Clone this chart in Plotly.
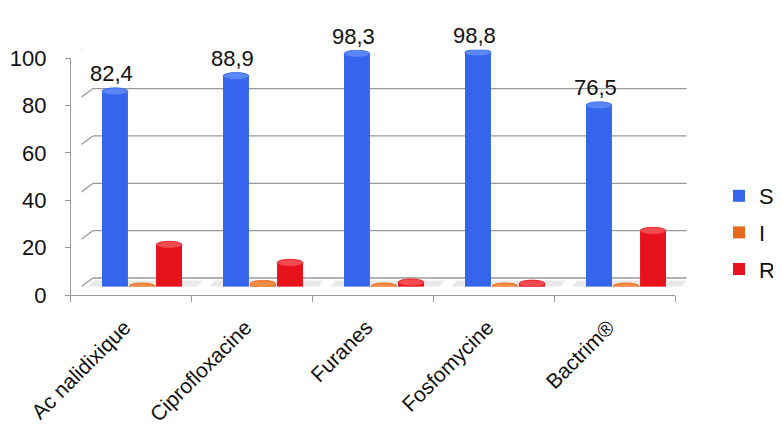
import plotly.graph_objects as go

# ---------------- data ----------------
categories = ["Ac nalidixique", "Ciprofloxacine", "Furanes", "Fosfomycine", "Bactrim®"]
S = [82.4, 88.9, 98.3, 98.8, 76.5]
I = [0.0, 1.1, 0.0, 0.0, 0.0]
R = [17.6, 10.0, 1.7, 1.2, 23.5]
series_names = ["S", "I", "R"]
y_ticks = [0, 20, 40, 60, 80, 100]

# ---------------- style / geometry ----------------
W, H = 781, 431
OFF = 8  # page body margin of the html page
FONT = "Liberation Sans, Arial, sans-serif"
colors = {"S": "#3565ec", "I": "#e8691c", "R": "#e8121c"}
tops = {"S": "#5a86f6", "I": "#f08a44", "R": "#f54a50"}
grid_col = "#9a9a9a"

mid_x0, mid_x1 = 81.5 - OFF, 686.5 - OFF
front_x0, front_x1 = 70 - OFF, 675 - OFF
mid_y0, mid_y100 = 286.5 - OFF, 49.7 - OFF
front_y0, front_y100 = 295 - OFF, 58.3 - OFF
label_dx = -6
depth_dx, depth_dy = 11.5, 8.5

px_per_cat = (mid_x1 - mid_x0) / len(categories)
px_per_unit = (mid_y0 - mid_y100) / 100.0
dxu = depth_dx / px_per_cat
dyu = depth_dy / px_per_unit

bargap, bargroupgap = 0.33, 0.04
slot = (1 - bargap) / 3
bw = slot * (1 - bargroupgap)
offsets = [-slot, 0.0, slot]

def fy(py):
    return 1 - py / H

fig = go.Figure()
xs = list(range(len(categories)))
data = {"S": S, "I": I, "R": R}
for name in series_names:
    fig.add_trace(go.Bar(
        x=xs, y=data[name], name=name, legendgroup=name,
        marker=dict(color=colors[name], line=dict(width=0)),
        hoverinfo="skip",
    ))

# invisible helper traces so the front axes get drawn
fig.add_trace(go.Scatter(x=[0], y=[0], xaxis="x2", yaxis="y2", mode="markers",
                         marker=dict(opacity=0), showlegend=False, hoverinfo="skip"))
fig.add_trace(go.Scatter(x=[0], y=[0], xaxis="x3", yaxis="y2", mode="markers",
                         marker=dict(opacity=0), showlegend=False, hoverinfo="skip"))

shapes = []
for v in y_ticks:
    shapes.append(dict(type="line", layer="below", xref="x", yref="y",
                       x0=-0.5 + dxu, x1=len(categories) - 0.5 + dxu,
                       y0=v + dyu, y1=v + dyu,
                       line=dict(color=grid_col, width=1.3)))
    shapes.append(dict(type="line", layer="below", xref="x", yref="y",
                       x0=-0.5 - dxu, x1=-0.5 + dxu,
                       y0=v - dyu, y1=v + dyu,
                       line=dict(color=grid_col, width=1.3)))
shapes.append(dict(type="line", layer="below", xref="x", yref="y",
                   x0=len(categories) - 0.5 - dxu, x1=len(categories) - 0.5 + dxu,
                   y0=-dyu, y1=dyu, line=dict(color=grid_col, width=1.3)))

for i in xs:
    shapes.append(dict(type="path", layer="below", xref="x", yref="y",
                       path=f"M{i-0.48},{-dyu*0.7} L{i+0.42},{-dyu*0.7} L{i+0.5},{dyu*0.7} L{i-0.40},{dyu*0.7} Z",
                       fillcolor="rgba(120,120,120,0.16)", line=dict(width=0)))

eh = 1.5
for k, name in enumerate(series_names):
    for i, v in zip(xs, data[name]):
        cx = i + offsets[k]
        shapes.append(dict(type="circle", layer="above", xref="x", yref="y",
                           x0=cx - bw / 2, x1=cx + bw / 2, y0=-eh, y1=eh,
                           fillcolor=colors[name], line=dict(width=0)))
        shapes.append(dict(type="circle", layer="above", xref="x", yref="y",
                           x0=cx - bw / 2, x1=cx + bw / 2, y0=v - eh, y1=v + eh,
                           fillcolor=tops[name], line=dict(color=colors[name], width=0.8)))

annotations = []
for i, v in zip(xs, S):
    annotations.append(dict(x=i + offsets[0], y=v, xref="x", yref="y",
                            text=f"{v:.1f}".replace(".", ","), showarrow=False,
                            xanchor="center", yanchor="bottom", yshift=3, xshift=-3,
                            font=dict(family=FONT, size=22, color="#111111")))

fig.update_layout(
    width=W, height=H, autosize=False,
    margin=dict(l=0, r=0, t=0, b=0, autoexpand=False),
    paper_bgcolor="white", plot_bgcolor="rgba(0,0,0,0)",
    barmode="group", bargap=bargap, bargroupgap=bargroupgap,
    font=dict(family=FONT, size=20, color="#111111"),
    shapes=shapes, annotations=annotations,
    xaxis=dict(domain=[mid_x0 / W, mid_x1 / W], range=[-0.5, len(categories) - 0.5],
               visible=False, fixedrange=True, automargin=False),
    yaxis=dict(domain=[fy(mid_y0), fy(mid_y100)], range=[0, 100],
               visible=False, fixedrange=True, automargin=False),
    # front floor edge with boundary ticks
    xaxis2=dict(domain=[front_x0 / W, front_x1 / W], range=[-0.5, len(categories) - 0.5],
                anchor="free", position=fy(front_y0), automargin=False, fixedrange=True,
                tickmode="array", tickvals=xs, ticktext=[""] * len(xs),
                ticks="", showgrid=False, zeroline=False,
                showline=True, linecolor=grid_col, linewidth=1.3,
                minor=dict(tickmode="array",
                           tickvals=[i - 0.5 for i in range(len(categories) + 1)],
                           ticks="outside", ticklen=6, tickcolor=grid_col, tickwidth=1.3,
                           showgrid=False)),
    # category labels
    xaxis3=dict(domain=[(front_x0 + label_dx) / W, (front_x1 + label_dx) / W],
                range=[-0.5, len(categories) - 0.5],
                anchor="free", position=fy(front_y0), automargin=False, fixedrange=True,
                tickmode="array", tickvals=xs, ticktext=categories, tickangle=-45,
                ticks="", showgrid=False, zeroline=False, showline=False,
                ticklabelstandoff=15,
                tickfont=dict(family=FONT, size=21, color="#111111")),
    yaxis2=dict(domain=[fy(front_y0), fy(front_y100)], range=[0, 100],
                anchor="free", position=front_x0 / W, side="left",
                automargin=False, fixedrange=True,
                tickmode="array", tickvals=y_ticks, ticks="outside", ticklen=5,
                tickcolor=grid_col, tickwidth=1.3,
                showgrid=False, zeroline=False,
                showline=True, linecolor=grid_col, linewidth=1.3,
                ticklabelstandoff=14,
                tickfont=dict(family=FONT, size=22, color="#111111")),
    legend=dict(x=(W - 9) / W, y=fy(167), xanchor="right", yanchor="top",
                font=dict(family=FONT, size=22, color="#111111"),
                tracegroupgap=5, itemwidth=30, bgcolor="rgba(0,0,0,0)"),
    showlegend=True,
)

fig.write_html("out.html")
